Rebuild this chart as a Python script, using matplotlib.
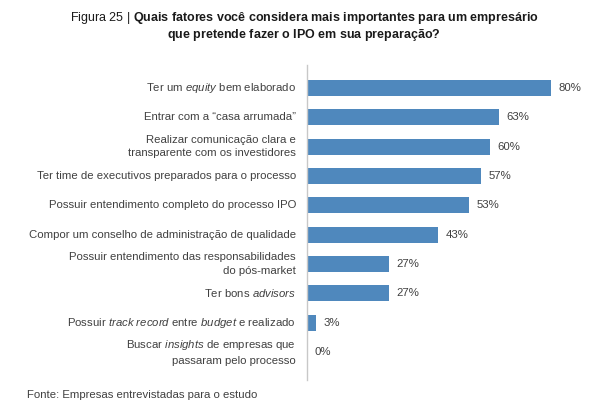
import matplotlib
matplotlib.use("Agg")
import matplotlib.pyplot as plt

plt.rcParams['font.family'] = ['Liberation Sans', 'DejaVu Sans']
plt.rcParams['mathtext.fontset'] = 'custom'
plt.rcParams['mathtext.rm'] = 'Liberation Sans'
plt.rcParams['mathtext.it'] = 'Liberation Sans:italic'
plt.rcParams['mathtext.bf'] = 'Liberation Sans:bold'

# dados
labels = [
    r"Ter um $\mathit{equity}$ bem elaborado",
    "Entrar com a \u201ccasa arrumada\u201d",
    "Realizar comunicação clara e\ntransparente com os investidores",
    "Ter time de executivos preparados para o processo",
    "Possuir entendimento completo do processo IPO",
    "Compor um conselho de administração de qualidade",
    "Possuir entendimento das responsabilidades\ndo pós-market",
    r"Ter bons $\mathit{advisors}$",
    r"Possuir $\mathit{track\ record}$ entre $\mathit{budget}$ e realizado",
    "Buscar $\\mathit{insights}$ de empresas que\npassaram pelo processo",
]
values = [80, 63, 60, 57, 53, 43, 27, 27, 3, 0]

bar_color = '#4F88BD'
txt_color = '#404040'

fig = plt.figure(figsize=(5.97, 4.09), dpi=100)
ax = fig.add_axes([307/597, 1-380/409, 290/597, 315/409])

y = list(range(len(values)))
ax.barh(y, values, height=0.55, color=bar_color)
ax.set_ylim(9.955, -0.784)
ax.set_xlim(0, 95)

for yi, v in zip(y, values):
    ax.text(v + 2.4, yi, f"{v}%", va='center', ha='left', fontsize=8.2, color=txt_color)

for yi, lab in zip(y, labels):
    ax.text(-3.6, yi, lab, va='center', ha='right', fontsize=8.2, color=txt_color,
            linespacing=1.45)

ax.set_xticks([])
ax.set_yticks([])
for s in ['top', 'right', 'bottom']:
    ax.spines[s].set_visible(False)
ax.spines['left'].set_color('#c8c8c8')
ax.spines['left'].set_linewidth(1.0)

# titulo
fig.text(304/597, 1-18/409,
         r"Figura 25 | $\mathbf{Quais\ fatores\ você\ considera\ mais\ importantes\ para\ um\ empresário}$",
         ha='center', va='center', fontsize=9.0, color='#1a1a1a')
fig.text(304/597, 1-35/409,
         r"$\mathbf{que\ pretende\ fazer\ o\ IPO\ em\ sua\ preparação?}$",
         ha='center', va='center', fontsize=9.0, color='#1a1a1a')

fig.text(27/597, 1-395/409, "Fonte: Empresas entrevistadas para o estudo",
         ha='left', va='center', fontsize=8.2, color=txt_color)

fig.savefig("out.png", dpi=100)
